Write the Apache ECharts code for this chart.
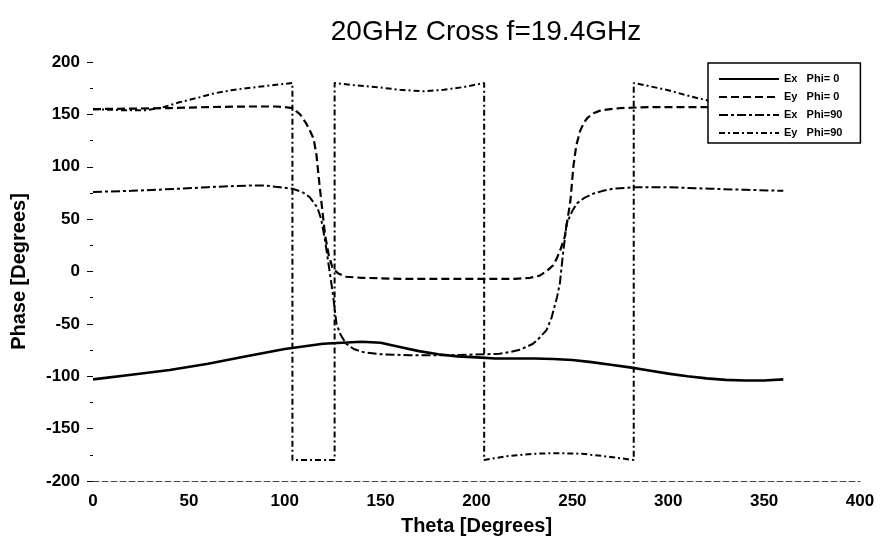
<!DOCTYPE html>
<html>
<head>
<meta charset="utf-8">
<script src="https://cdn.jsdelivr.net/npm/echarts@6/dist/echarts.min.js"></script>
<style>
html,body{margin:0;padding:0;background:#fff;}
#chart{width:890px;height:550px;}
</style>
</head>
<body>
<div id="chart"></div>
<script>
// ---- Data ----
var titleText = "20GHz Cross f=19.4GHz";
var xTicks = [0, 50, 100, 150, 200, 250, 300, 350, 400];
var yTicks = [-200, -150, -100, -50, 0, 50, 100, 150, 200];
var seriesNames = ["Ex   Phi= 0", "Ey   Phi= 0", "Ex   Phi=90", "Ey   Phi=90"];

// Ex Phi=0 (solid)
var exPhi0Theta = [0, 20, 40, 60, 80, 100, 120, 140, 150, 160, 170, 180, 190, 200, 210, 220, 230, 240, 250, 260, 270, 280, 290, 300, 310, 320, 330, 340, 350, 360];
var exPhi0Val   = [-103, -98.5, -94, -88, -81, -74, -69, -67, -68, -72, -76, -79, -81, -82, -83, -83, -83, -83.5, -84.5, -86.5, -89, -91.5, -94.5, -97.5, -100, -102, -103.5, -104, -104, -103];

// Ey Phi=0 (dashed)
var eyPhi0Theta = [0, 20, 40, 60, 80, 95, 100, 104, 108, 111, 113, 115, 116.5, 118, 119.5, 121, 123, 125, 128, 132, 140, 160, 180, 200, 220, 228, 233, 237, 240, 242, 244, 246, 247.5, 249, 250.5, 252, 254, 256, 258, 261, 265, 275, 290, 310, 330, 345, 360];
var eyPhi0Val   = [155, 155.5, 156, 157, 157.5, 157.5, 157, 156, 150, 142, 135, 127, 112, 85, 60, 35, 15, 3, -2, -5, -6, -7, -7, -7, -7, -6, -4, 1, 6, 13, 22, 33, 50, 68, 100, 120, 134, 142, 147, 151, 154, 156, 157, 157, 157, 156.5, 155];

// Ex Phi=90 (dash-dot)
var exPhi90Theta = [0, 20, 45, 60, 80, 90, 97.5, 104, 109, 113, 117, 119, 121, 123, 125, 127, 129, 132, 136, 141, 150, 165, 185, 205, 212, 217, 222, 226, 229.5, 233, 236.5, 239, 242, 243.5, 245, 247, 250, 252.4, 256, 261, 266, 271, 283, 300, 322, 340, 360];
var exPhi90Val   = [76, 77, 79, 80.5, 82, 82, 80.5, 79, 76, 71, 61, 50, 30, 5, -20, -50, -60, -69, -74, -77, -79, -80, -80, -79, -78.5, -77, -75, -72, -69, -63, -56, -45, -24.5, -11, 15, 45.6, 58, 65, 70, 74.4, 77, 79, 80.5, 80.5, 79, 78, 77];

// Ey Phi=90 (dash-dot, wrapped at +/-180)
var eyPhi90Theta = [0, 15, 28, 37, 45, 55, 63, 72, 80, 92, 104, 104, 115, 126, 126, 135, 150, 160, 172, 183, 193, 204, 204, 215, 230, 242, 255, 270, 282, 282, 290, 300, 310, 321, 335, 350, 360];
var eyPhi90Val   = [155, 154, 154, 157, 161.5, 166, 170, 173, 175, 177.5, 180, -180, -180, -180, 180, 178, 175.6, 173.5, 172, 173.5, 176, 180, -180, -176.5, -174, -173.4, -174, -177, -180, 180, 177, 173, 168, 163, 159, 156.5, 155];

function pairs(t, v) { return t.map(function (x, i) { return [x, v[i]]; }); }

var chart = echarts.init(document.getElementById('chart'), null, {renderer: 'canvas'});
var font = "'Liberation Sans', Arial, Helvetica, sans-serif";

var styles = [
  {type: 'solid', width: 2.6},
  {type: [8, 4], width: 2.2},
  {type: [9, 3, 3, 3], width: 2},
  {type: [6, 3, 2, 3], width: 2}
];
var dataSets = [
  pairs(exPhi0Theta, exPhi0Val),
  pairs(eyPhi0Theta, eyPhi0Val),
  pairs(exPhi90Theta, exPhi90Val),
  pairs(eyPhi90Theta, eyPhi90Val)
];

var series = seriesNames.map(function (name, i) {
  return {
    name: name,
    type: 'line',
    data: dataSets[i],
    showSymbol: false,
    symbol: 'none',
    smooth: false,
    animation: false,
    lineStyle: {color: '#000', width: styles[i].width, type: styles[i].type},
    itemStyle: {color: '#000'},
    z: 2
  };
});

chart.setOption({
  backgroundColor: '#fff',
  animation: false,
  title: {
    text: titleText,
    left: 481,
    textAlign: 'center',
    top: 13,
    textStyle: {fontFamily: font, fontSize: 28, fontWeight: 'normal', color: '#000'}
  },
  legend: {
    left: 708,
    top: 63,
    orient: 'vertical',
    backgroundColor: '#fff',
    borderColor: '#000',
    borderWidth: 1.5,
    borderRadius: 0,
    padding: [10, 18, 4, 10],
    itemGap: 6,
    itemWidth: 60,
    itemHeight: 12,
    itemTextGap: 16,
    itemStyle: {opacity: 0, borderWidth: 0},
    textStyle: {fontFamily: font, fontSize: 11, fontWeight: 'bold', color: '#000', lineHeight: 12},
    data: seriesNames,
    z: 10
  },
  grid: {left: 93, right: 30, top: 62, bottom: 69, containLabel: false},
  xAxis: {
    type: 'value',
    min: xTicks[0],
    max: xTicks[xTicks.length - 1],
    interval: 50,
    name: 'Theta [Degrees]',
    nameLocation: 'middle',
    nameGap: 35,
    nameTextStyle: {fontFamily: font, fontSize: 20, fontWeight: 'bold', color: '#000'},
    axisLine: {show: true, onZero: false, lineStyle: {color: '#444', width: 1, type: [6, 3]}},
    axisTick: {show: false},
    splitLine: {show: false},
    axisLabel: {fontFamily: font, fontSize: 17, fontWeight: 'bold', color: '#000', margin: 12}
  },
  yAxis: {
    type: 'value',
    min: yTicks[0],
    max: yTicks[yTicks.length - 1],
    interval: 50,
    name: 'Phase [Degrees]',
    nameLocation: 'middle',
    nameGap: 64,
    nameTextStyle: {fontFamily: font, fontSize: 20, fontWeight: 'bold', color: '#000'},
    axisLine: {show: false},
    axisTick: {show: true, length: 6, lineStyle: {color: '#000', width: 1}},
    minorTick: {show: true, splitNumber: 2, length: 3, lineStyle: {color: '#000', width: 1}},
    splitLine: {show: false},
    axisLabel: {fontFamily: font, fontSize: 17, fontWeight: 'bold', color: '#000', margin: 13}
  },
  series: series
});
</script>
</body>
</html>
